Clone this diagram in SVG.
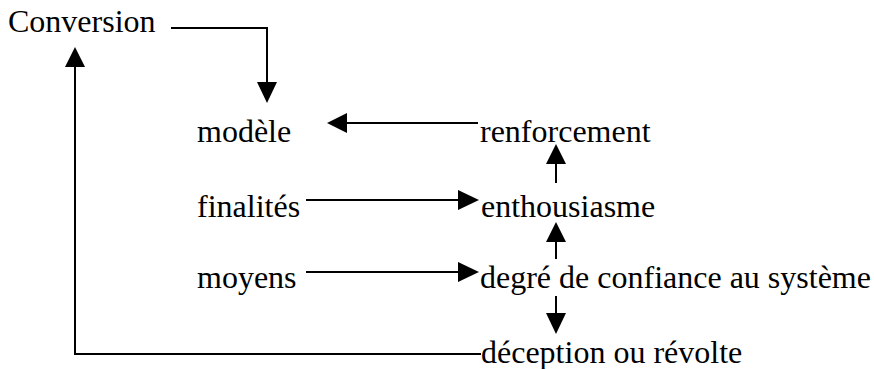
<svg xmlns="http://www.w3.org/2000/svg" width="874" height="369" viewBox="0 0 874 369">
<style>
text{font-family:"Liberation Serif","Times New Roman",serif;font-size:32px;fill:#000}
.c{stroke:#000;stroke-width:2;fill:none}
.h{fill:#000;stroke:none}
</style>
<rect width="874" height="369" fill="#fff"/>
<g id="conversion"><text x="8" y="32">Conversion</text></g>
<g id="modele"><text x="197" y="142">modèle</text></g>
<g id="renforcement"><text x="480" y="142">renforcement</text></g>
<g id="finalites"><text x="197" y="217">finalités</text></g>
<g id="enthousiasme"><text x="481" y="217">enthousiasme</text></g>
<g id="moyens"><text x="197" y="288">moyens</text></g>
<g id="degre"><text x="480" y="288">degré de confiance au système</text></g>
<g id="deception"><text x="481" y="363">déception ou révolte</text></g>
<g id="connectors">
<polyline class="c" points="171,28 267,28 267,84"/>
<polygon class="h" points="257,82 277,82 267,103"/>
<line class="c" x1="478" y1="123" x2="345" y2="123"/>
<polygon class="h" points="347,113 347,133 327,123"/>
<line class="c" x1="556" y1="183" x2="556" y2="162"/>
<polygon class="h" points="546,164 566,164 556,144"/>
<line class="c" x1="306" y1="200" x2="460" y2="200"/>
<polygon class="h" points="458,190 458,210 479,200"/>
<line class="c" x1="556" y1="259" x2="556" y2="240"/>
<polygon class="h" points="546,242 566,242 556,222"/>
<line class="c" x1="306" y1="272" x2="460" y2="272"/>
<polygon class="h" points="458,262 458,282 479,272"/>
<line class="c" x1="556" y1="296" x2="556" y2="315"/>
<polygon class="h" points="546,313 566,313 556,334"/>
<polyline class="c" points="481,354 75,354 75,65"/>
<polygon class="h" points="65,67 85,67 75,47"/>
</g>
</svg>
